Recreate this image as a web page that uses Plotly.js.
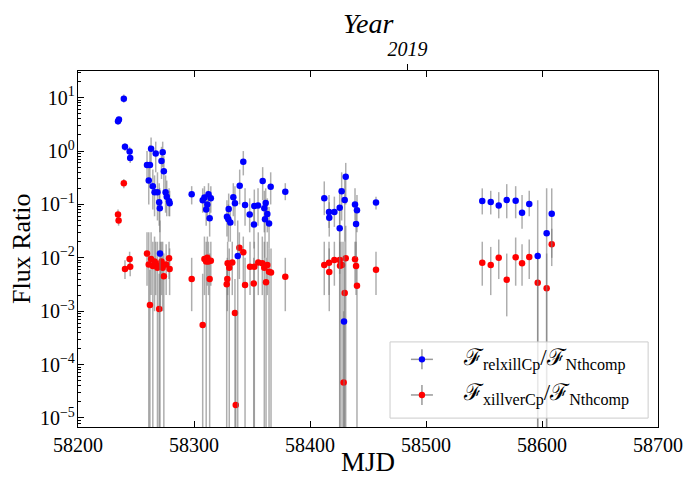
<!DOCTYPE html>
<html><head><meta charset="utf-8">
<script src="https://cdn.plot.ly/plotly-3.0.1.min.js"></script>
<style>html,body{margin:0;padding:0;background:#fff}#chart{width:684px;height:477px}</style>
</head><body><div id="chart"></div>
<script>
// ---- relxillCp / Nthcomp (blue) ----
const blueMJD = [58234.5,58235.3,58239.5,58240.5,58244.5,58245,58259.5,58261,58262,58263,58264.5,58266,58267,58268.5,58270,58270.5,58270.7,58272,58273,58274,58275.5,58276.5,58278.5,58279,
  58298,58307.5,58309,58310.5,58311.5,58312.5,58313.5,58314.5,
  58328.4,58329.6,58329.9,58331.3,58333.9,58335.3,58337.7,58339.4,58342.5,58344,58348,58351.7,58352,58355.2,58359.2,58360.6,58361.2,58361.8,58363.2,58364.7,58366.1,58378.7,
  58412.3,58416.4,58416.6,58421,58425.6,58425.6,58427.3,58429.3,58429.9,58430.8,58438.8,58439.7,58440.5,58456.9,
  58548.5,58555.8,58562.7,58569.6,58577.3,58582.8,58589,58596.3,58604,58608.4];
const blueVal = [3.6,3.9,9.6,1.2,0.98,0.74,0.55,0.28,0.55,1.1,0.22,0.17,0.9,0.17,0.11,0.085,0.012,0.65,0.95,0.42,0.17,0.14,0.115,0.105,
  0.155,0.12,0.135,0.08,0.1,0.155,0.055,0.13,
  0.059,0.0526,0.082,0.046,0.136,0.105,0.0108,0.224,0.63,0.0975,0.065,0.042,0.093,0.095,0.274,0.0845,0.053,0.106,0.066,0.044,0.214,0.173,
  0.13,0.072,0.056,0.072,0.0867,0.0357,0.176,0.00064,0.121,0.33,0.1,0.043,0.0775,0.109,
  0.116,0.111,0.096,0.121,0.117,0.070,0.102,0.0108,0.0288,0.067];
const blueHi = [4.2,4.4,11.5,1.4,1.2,0.9,1.0,0.6,1.3,1.8,0.45,0.35,1.5,0.4,0.25,0.2,0.05,1.2,1.5,0.8,0.35,0.28,0.2,0.18,
  0.22,0.2,0.22,0.15,0.18,0.25,0.1,0.22,
  0.12,0.1,0.16,0.09,0.25,0.22,0.05,0.45,1.0,0.2,0.13,0.09,0.19,0.2,0.5,0.18,0.11,0.2,0.13,0.09,0.4,0.25,
  0.27,0.15,0.11,0.14,0.2,0.09,0.4,0.02,0.3,0.6,0.2,0.1,0.15,0.14,
  0.2,0.18,0.17,0.24,0.22,0.15,0.18,0.12,0.2,0.2];
const blueLo = [3.1,3.4,8.0,1.0,0.8,0.6,0.25,0.1,0.2,0.5,0.08,0.06,0.4,0.05,0.04,0.03,1e-8,0.3,0.5,0.15,0.07,0.06,0.06,0.06,
  0.1,0.07,0.08,0.04,0.05,0.09,0.025,0.07,
  0.025,0.02,0.04,0.02,0.06,0.04,1e-8,0.1,0.35,0.04,0.03,0.015,0.04,0.04,0.12,0.03,0.01,0.05,0.03,0.015,0.1,0.12,
  0.063,0.036,0.025,0.038,0.03,0.005,0.05,1e-8,0.02,0.1,0.05,0.01,0.03,0.08,
  0.065,0.065,0.055,0.055,0.055,0.035,0.06,1e-8,1e-8,0.01];

// ---- xillverCp / Nthcomp (red) ----
const redMJD = [58234.5,58235,58239.5,58240.5,58244.5,58245,58259.5,58261,58262,58263,58264.5,58266,58267,58268.5,58270,58271,58272,58273,58274,58276,58278.5,58279,
  58298,58307.5,58309,58310.5,58311.5,58312.5,58313.5,58314.5,
  58328.2,58328.7,58329,58330.4,58333,58335.3,58336,58339.1,58342.5,58344,58348.3,58351.5,58352,58355.4,58358.9,58360.6,58362.1,58363.2,58364.7,58366.4,58378.7,
  58412.3,58416.4,58416.6,58421,58425.6,58425.9,58427.6,58429,58429.9,58430.8,58438.8,58439.7,58440.5,58456.9,
  58548.5,58555.8,58562.7,58569.6,58577.3,58582.8,58589,58596.3,58604,58608.4];
const redVal = [0.065,0.05,0.25,0.0062,0.0095,0.0068,0.012,0.0075,0.0013,0.0095,0.007,0.0085,0.0078,0.0065,0.0011,0.007,0.0085,0.0065,0.0045,0.0075,0.0098,0.0062,
  0.004,0.00055,0.0095,0.0085,0.01,0.0085,0.004,0.0088,
  0.0032,0.0040,0.0079,0.0065,0.0082,0.00092,0.0000175,0.0155,0.0127,0.0031,0.0068,0.0033,0.0068,0.0082,0.0079,0.0065,0.0035,0.0073,0.0055,0.0053,0.0044,
  0.0073,0.0081,0.0054,0.0091,0.0091,0.0071,0.0073,0.000046,0.0022,0.0098,0.0094,0.0070,0.003,0.006,
  0.0081,0.0073,0.0100,0.0039,0.0102,0.0079,0.0104,0.0034,0.0027,0.018];
const redHi = [0.08,0.06,0.3,0.009,0.013,0.01,0.03,0.03,0.006,0.03,0.02,0.025,0.02,0.02,0.005,0.02,0.02,0.02,0.012,0.018,0.02,0.015,
  0.01,0.005,0.025,0.02,0.025,0.02,0.012,0.02,
  0.008,0.01,0.02,0.015,0.02,0.004,0.001,0.03,0.025,0.01,0.02,0.01,0.02,0.03,0.025,0.02,0.01,0.02,0.015,0.015,0.01,
  0.02,0.02,0.015,0.02,0.03,0.02,0.02,0.001,0.01,0.04,0.02,0.02,0.01,0.013,
  0.02,0.016,0.022,0.012,0.024,0.018,0.022,0.013,0.012,0.035];
const redLo = [0.05,0.04,0.2,0.004,0.007,0.0045,0.003,1e-8,1e-8,0.002,1e-8,0.001,0.002,1e-8,1e-8,0.001,0.002,0.001,1e-8,0.002,0.004,0.002,
  0.001,1e-8,0.002,1e-8,0.003,0.002,1e-8,0.003,
  1e-8,0.001,0.002,1e-8,0.002,1e-8,1e-8,0.004,0.003,1e-8,0.002,1e-8,1e-8,0.002,0.002,1e-8,1e-8,0.002,1e-8,1e-8,0.001,
  0.002,0.002,0.001,0.003,1e-8,1e-8,1e-8,1e-8,1e-8,1e-8,0.003,0.002,1e-8,0.002,
  0.003,0.002,0.004,0.0008,0.003,0.003,0.004,1e-8,1e-8,0.007];

const xTickVals = [58200,58300,58400,58500,58600,58700];
const yTickVals = [1e-5,1e-4,1e-3,1e-2,1e-1,1,10];
const yTickText = ['10<sup>−5</sup>','10<sup>−4</sup>','10<sup>−3</sup>','10<sup>−2</sup>','10<sup>−1</sup>','10<sup>0</sup>','10<sup>1</sup>'];
const topTickVals = [58484];
const topTickText = ['2019'];
const FSCRIPT = 'ℱ';
const legendLabels = [FSCRIPT + '<sub>relxillCp</sub>/' + FSCRIPT + '<sub>Nthcomp</sub>',
                      FSCRIPT + '<sub>xillverCp</sub>/' + FSCRIPT + '<sub>Nthcomp</sub>'];
const seriesColors = ['#0000ff','#ff0000'];

const minorVals = [];
for (let e = -6; e <= 1; e++) for (let k = 2; k <= 9; k++) minorVals.push(k * Math.pow(10, e));

function errTrace(x, v, hi, lo, color, name) {
  return {
    type: 'scatter', mode: 'markers', name: name, x: x, y: v, showlegend: false,
    marker: {color: color, size: 6.5},
    error_y: {type: 'data', symmetric: false,
      array: v.map((d, i) => hi[i] - d),
      arrayminus: v.map((d, i) => d - lo[i]),
      color: 'rgba(120,120,120,0.6)', thickness: 1.5, width: 0}
  };
}

const FONT = 'Liberation Serif, DejaVu Serif, serif';
const traces = [
  errTrace(redMJD, redVal, redHi, redLo, seriesColors[1], 'xillverCp'),
  errTrace(blueMJD, blueVal, blueHi, blueLo, seriesColors[0], 'relxillCp'),
  // invisible copy on the top (Year) axis so that axis is drawn
  {type: 'scatter', mode: 'markers', x: blueMJD, y: blueVal, xaxis: 'x2', yaxis: 'y', showlegend: false,
   marker: {opacity: 0, size: 1}, hoverinfo: 'skip'}
];

// custom legend (matplotlib-style errorbar handles)
const lgX0 = 0.538, lgX1 = 0.983, lgY0 = 0.025, lgY1 = 0.239;
const rowY = [0.19, 0.09];
const handleX = 0.593;
const shapes = [{type: 'rect', xref: 'paper', yref: 'paper', x0: lgX0, x1: lgX1, y0: lgY0, y1: lgY1,
  line: {color: '#cccccc', width: 1}, fillcolor: 'rgba(255,255,255,0.8)', layer: 'above'}];
const annotations = [];
rowY.forEach((ry, i) => {
  shapes.push({type: 'line', xref: 'paper', yref: 'paper', xsizemode: 'pixel', xanchor: handleX, x0: -11, x1: 11, y0: ry, y1: ry,
    line: {color: '#999999', width: 1.5}, layer: 'above'});
  shapes.push({type: 'line', xref: 'paper', yref: 'paper', ysizemode: 'pixel', yanchor: ry, x0: handleX, x1: handleX, y0: -10, y1: 10,
    line: {color: '#999999', width: 1.5}, layer: 'above'});
  shapes.push({type: 'circle', xref: 'paper', yref: 'paper', xsizemode: 'pixel', ysizemode: 'pixel', xanchor: handleX, yanchor: ry,
    x0: -3.2, x1: 3.2, y0: -3.2, y1: 3.2, fillcolor: seriesColors[i], line: {width: 0}, layer: 'above'});
  annotations.push({xref: 'paper', yref: 'paper', x: 0.66, y: ry, xanchor: 'left', yanchor: 'middle', showarrow: false,
    text: legendLabels[i], font: {family: FONT, size: 23, color: 'black'}});
});
// top title "Year"
annotations.push({xref: 'paper', yref: 'paper', x: 0.5, y: 1, yshift: 48, xanchor: 'center', yanchor: 'middle', showarrow: false,
  text: 'Year', font: {family: FONT, size: 28, style: 'italic', color: 'black'}});
// y-axis title
annotations.push({xref: 'paper', yref: 'paper', x: 0, y: 0.5, xshift: -57, xanchor: 'center', yanchor: 'middle', showarrow: false,
  textangle: -90, text: 'Flux Ratio', font: {family: FONT, size: 26, color: 'black'}});

const layout = {
  width: 684, height: 477,
  margin: {l: 78, r: 26, t: 71, b: 50},
  paper_bgcolor: 'white', plot_bgcolor: 'white',
  showlegend: false,
  font: {family: FONT, size: 20, color: 'black'},
  xaxis: {range: [58200, 58700], tickmode: 'array', tickvals: xTickVals, ticks: 'inside', ticklen: 6, tickcolor: 'black',
    showline: true, linecolor: 'black', linewidth: 1.2, mirror: 'ticks', showgrid: false, zeroline: false,
    tickfont: {family: FONT, size: 20}, tickformat: 'd',
    title: {text: 'MJD', font: {family: FONT, size: 27}, standoff: 4}},
  xaxis2: {range: [58200, 58700], overlaying: 'x', side: 'top', anchor: 'y', tickmode: 'array', tickvals: topTickVals, ticktext: topTickText,
    ticks: 'outside', ticklen: 6, tickcolor: 'black', showgrid: false, zeroline: false, showline: false,
    tickfont: {family: FONT, size: 20, style: 'italic'}},
  yaxis: {type: 'log', range: [-5.17, 1.5], tickmode: 'array', tickvals: yTickVals, ticktext: yTickText,
    ticks: 'inside', ticklen: 6, tickcolor: 'black', showline: true, linecolor: 'black', linewidth: 1.2, mirror: true,
    showgrid: false, zeroline: false, tickfont: {family: FONT, size: 20}, ticklabelstandoff: -2,
    minor: {tickmode: 'array', tickvals: minorVals, ticks: 'inside', ticklen: 3, tickcolor: 'black', showgrid: false}},
  shapes: shapes,
  annotations: annotations
};

Plotly.newPlot('chart', traces, layout, {staticPlot: true, displayModeBar: false});
</script></body></html>
